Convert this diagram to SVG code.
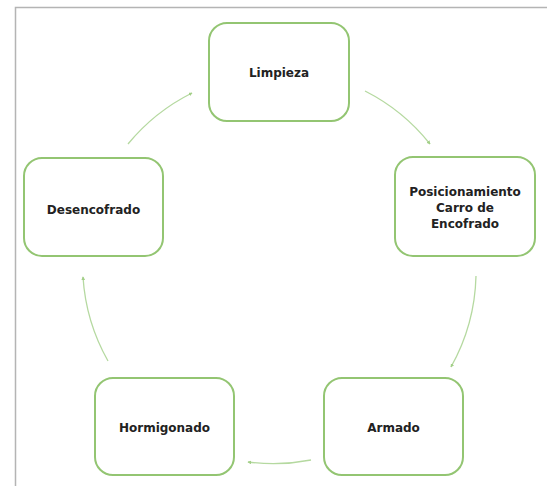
<svg xmlns="http://www.w3.org/2000/svg" width="547" height="486" viewBox="0 0 547 486">
<style>
.node rect{fill:#ffffff;stroke:#93c572;stroke-width:2}
.node text{font-family:"DejaVu Sans",Verdana,sans-serif;font-weight:bold;font-size:12px;fill:#222222;text-anchor:middle}
.conn path{fill:none;stroke:#b5d9a0;stroke-width:1.3}
.frame{stroke:#b4b4b4;stroke-width:1.5;fill:none}
</style>
<defs>
<marker id="ah" viewBox="0 0 6 6" refX="5" refY="3" markerWidth="3" markerHeight="3" orient="auto" markerUnits="strokeWidth">
<path d="M0,0 L6,3 L0,6 Z" fill="#a3cf88"/>
</marker>
</defs>
<rect width="547" height="486" fill="#ffffff"/>
<path class="frame" d="M15.5,486 L15.5,7.5 L547,7.5"/>
<g class="conn">
<path d="M365,91 A196,196 0 0 1 430,144" marker-end="url(#ah)"/>
<path d="M476,276 A196,196 0 0 1 451,367" marker-end="url(#ah)"/>
<path d="M311,460 A196,196 0 0 1 248,462" marker-end="url(#ah)"/>
<path d="M108,361 A196,196 0 0 1 83,277" marker-end="url(#ah)"/>
<path d="M128,144 A196,196 0 0 1 192,93" marker-end="url(#ah)"/>
</g>
<g id="limpieza" class="node">
<rect x="209" y="23" width="140" height="98" rx="18"/>
<text x="279" y="77">Limpieza</text>
</g>
<g id="posicionamiento" class="node">
<rect x="395" y="157" width="140" height="99" rx="18"/>
<text x="465" y="196">Posicionamiento</text>
<text x="465" y="212">Carro de</text>
<text x="465" y="228">Encofrado</text>
</g>
<g id="armado" class="node">
<rect x="324" y="378" width="139" height="97" rx="18"/>
<text x="393.5" y="432">Armado</text>
</g>
<g id="hormigonado" class="node">
<rect x="95" y="378" width="139" height="97" rx="18"/>
<text x="164.5" y="432">Hormigonado</text>
</g>
<g id="desencofrado" class="node">
<rect x="24" y="158" width="139" height="98" rx="18"/>
<text x="93.5" y="214">Desencofrado</text>
</g>
</svg>
